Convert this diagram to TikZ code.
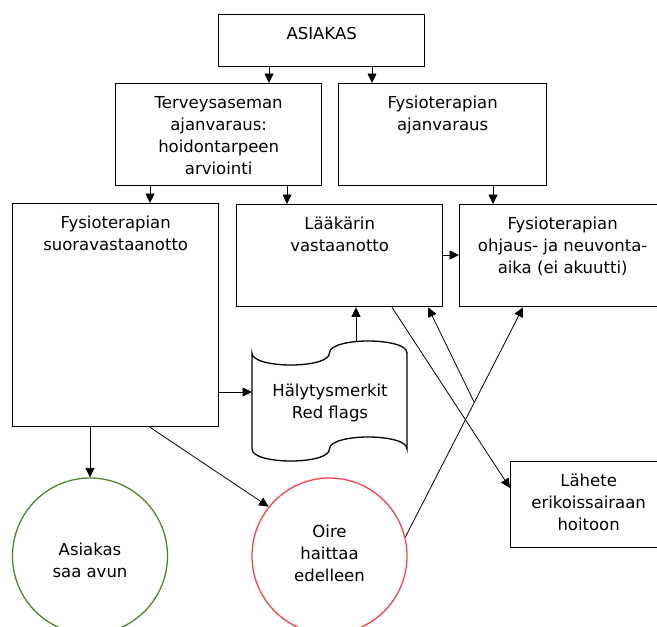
\documentclass[tikz,border=0pt]{standalone}
\usepackage{fontspec}
\setmainfont{DejaVu Sans}
\usetikzlibrary{arrows.meta,shapes.geometric}
\definecolor{okgreen}{RGB}{84,130,53}
\definecolor{alertred}{RGB}{255,64,80}
\begin{document}
\begin{tikzpicture}[x=1pt,y=-1pt,
  box/.style={draw=black,line width=1.3pt,rectangle,anchor=north west,inner sep=0pt},
  txt/.style={font=\fontsize{16.5}{22}\selectfont,align=center,anchor=north,inner sep=0pt,yshift=-13pt},
  ctxt/.style={font=\fontsize{16.5}{22}\selectfont,align=center,inner sep=0pt},
  conn/.style={draw=black,line width=0.8pt,-{Triangle[length=9.5pt,width=9pt]}},
  oval/.style={ellipse,line width=1.3pt,minimum width=155pt,minimum height=156pt,inner sep=0pt}]
\useasboundingbox (0,0) rectangle (657,627);

% boxes
\node[box,minimum width=206pt,minimum height=52pt] (asiakas) at (218,14) {};
\node[box,minimum width=206pt,minimum height=102pt] (terv) at (115,83) {};
\node[box,minimum width=208pt,minimum height=102pt] (fajan) at (338,83) {};
\node[box,minimum width=206pt,minimum height=223pt] (suora) at (12,203) {};
\node[box,minimum width=206pt,minimum height=102pt] (laak) at (236,204) {};
\node[box,minimum width=206pt,minimum height=102pt] (ohj) at (459,204) {};
\node[box,minimum width=156pt,minimum height=86pt] (lahete) at (510,461) {};

\node[txt] (tasiakas) at (asiakas.north) {ASIAKAS};
\node[txt] (tterv) at (terv.north) {Terveysaseman\\ajanvaraus:\\hoidontarpeen\\arviointi};
\node[txt] (tfajan) at (fajan.north) {Fysioterapian\\ajanvaraus};
\node[txt] (tsuora) at (suora.north) {Fysioterapian\\suoravastaanotto};
\node[txt] (tlaak) at (laak.north) {Lääkärin\\vastaanotto};
\node[txt] (tohj) at (ohj.north) {Fysioterapian\\ohjaus- ja neuvonta-\\aika (ei akuutti)};
\node[txt] (tlahete) at (lahete.north) {Lähete\\erikoissairaan\\hoitoon};

% punched tape
\node[rectangle,minimum width=155pt,minimum height=120pt,inner sep=0pt,anchor=north west] (tape) at (252,341) {};
\draw[line width=1.3pt] (252,353) .. controls (252,369) and (329.5,369) .. (329.5,353)
  .. controls (329.5,337) and (407,337) .. (407,353) -- (407,449)
  .. controls (407,433) and (329.5,433) .. (329.5,449)
  .. controls (329.5,465) and (252,465) .. (252,449) -- cycle;
\node[ctxt] (ttape) at (330,403) {Hälytysmerkit\\Red flags};
\coordinate (tapetop) at (356,341);

% ovals
\node[oval,draw=okgreen] (green) at (90,556) {};
\node[ctxt] (tgreen) at (90,560) {Asiakas\\saa avun};
\node[oval,draw=alertred] (red) at (329.5,556) {};
\node[ctxt] (tred) at (329.5,553) {Oire\\haittaa\\edelleen};

% helper coordinates
\coordinate (x269) at (269,0);
\coordinate (x372) at (372,0);
\coordinate (x150) at (150,0);
\coordinate (x287) at (287,0);
\coordinate (x493) at (493,0);
\coordinate (x356) at (356,0);
\coordinate (x428) at (428,0);
\coordinate (x523) at (523,0);
\coordinate (x392) at (392,0);
\coordinate (y255) at (0,255);
\coordinate (y392) at (0,392);
\coordinate (y488) at (0,488);

% connectors
\draw[conn] (asiakas.south -| x269) -- (terv.north -| x269);
\draw[conn] (asiakas.south -| x372) -- (fajan.north -| x372);
\draw[conn] (terv.south -| x150) -- (suora.north -| x150);
\draw[conn] (terv.south -| x287) -- (laak.north -| x287);
\draw[conn] (fajan.south -| x493) -- (ohj.north -| x493);
\draw[conn] (laak.east |- y255) -- (ohj.west |- y255);
\draw[conn] (suora.east |- y392) -- (tape.west |- y392);
\draw[conn] (tapetop) -- (laak.south -| x356);
\draw[conn] (suora.south -| green.north) -- (green.north);
\draw[conn] (suora.south -| x150) -- (red.141);
\draw[conn] (red.14) -- (ohj.south -| x523) coordinate[pos=0.586] (junc);
\draw[conn] (junc) -- (laak.south -| x428);
\draw[conn] (laak.south -| x392) -- (lahete.west |- y488);
\end{tikzpicture}
\end{document}
